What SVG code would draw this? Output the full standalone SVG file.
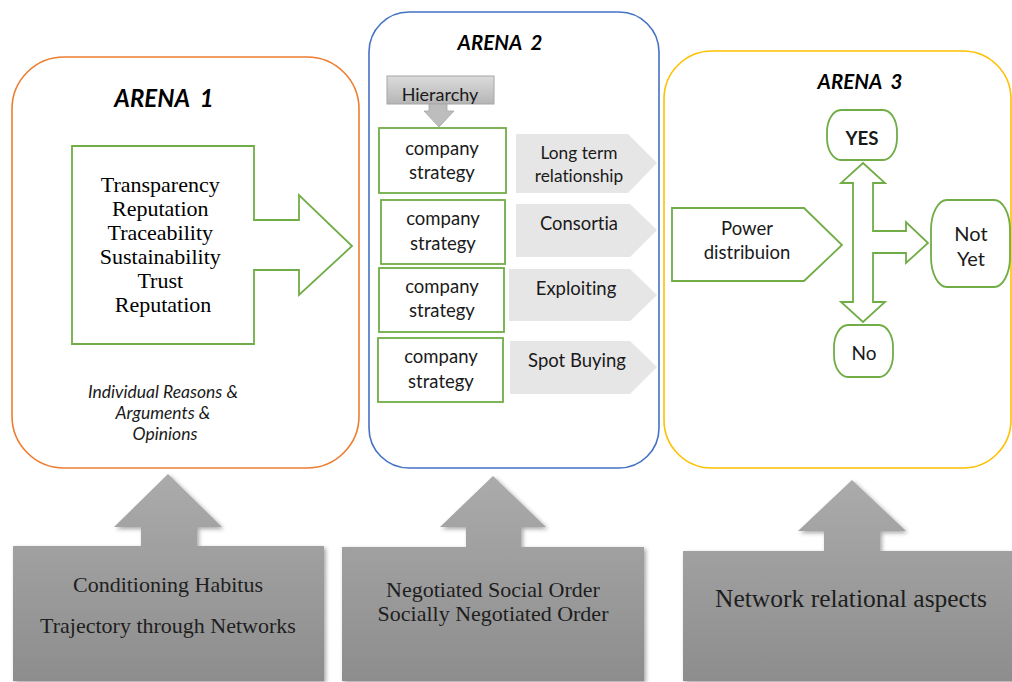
<svg xmlns="http://www.w3.org/2000/svg" width="1012" height="682" viewBox="0 0 1012 682">
  <defs>
    <linearGradient id="greyFade" x1="0" y1="0" x2="0" y2="1">
      <stop offset="0" stop-color="#ababab"/>
      <stop offset="1" stop-color="#8d8d8d"/>
    </linearGradient>
    <linearGradient id="tabFade" x1="0" y1="0" x2="0" y2="1">
      <stop offset="0" stop-color="#dcdcdc"/>
      <stop offset="1" stop-color="#b5b5b5"/>
    </linearGradient>
    <filter id="softShadow" x="-10%" y="-10%" width="120%" height="120%">
      <feDropShadow dx="2" dy="2" stdDeviation="2" flood-color="#000" flood-opacity="0.35"/>
    </filter>
    <clipPath id="tabClip">
      <rect x="387" y="76" width="107" height="28"/>
    </clipPath>
  </defs>
  <style>
    text { font-variant-ligatures: none; }
    .arena { fill: #fff; stroke-width: 1.6; }
    .title { font-family: Lato, "Open Sans", sans-serif; font-weight: bold; font-style: italic; fill: #000; white-space: pre; }
    .green { fill: #fff; stroke: #70ad47; stroke-width: 1.8; }
    .chev { fill: #e7e6e6; stroke: none; }
    .sans { font-family: Lato, "Open Sans", sans-serif; fill: #1a1a1a; text-anchor: middle; }
    .serif { font-family: "Liberation Serif", "Times New Roman", serif; fill: #000; text-anchor: middle; }
    .base { fill: url(#greyFade); filter: url(#softShadow); }
    .baseText { font-family: "Liberation Serif", "Times New Roman", serif; fill: #1e1e1e; text-anchor: middle; }
  </style>

  <!-- Arena frames -->
  <g id="arena1">
    <rect class="arena" x="12" y="57" width="347" height="411" rx="52" stroke="#ed7d31"/>
    <text class="title" x="164" y="107" font-size="24" text-anchor="middle">ARENA  1</text>
  </g>
  <g id="arena2">
    <rect class="arena" x="369" y="12" width="290" height="456" rx="40" stroke="#4472c4"/>
    <text class="title" x="500" y="50" font-size="20.5" text-anchor="middle">ARENA  2</text>
  </g>
  <g id="arena3">
    <rect class="arena" x="664" y="51" width="347" height="417" rx="48" stroke="#ffc000"/>
    <text class="title" x="860" y="89" font-size="20.5" text-anchor="middle">ARENA  3</text>
  </g>

  <!-- Arena 1 contents -->
  <g id="values-arrow">
    <path class="green" d="M72,146 L254,146 L254,220 L299,220 L299,195 L352,246 L299,295 L299,270 L254,270 L254,344 L72,344 Z"/>
    <text class="serif" font-size="22">
      <tspan x="163" y="192">Transparency</tspan>
      <tspan x="163" y="216">Reputation</tspan>
      <tspan x="163" y="240">Traceability</tspan>
      <tspan x="163" y="264">Sustainability</tspan>
      <tspan x="163" y="288">Trust</tspan>
      <tspan x="163" y="312">Reputation</tspan>
    </text>
  </g>
  <g id="reasons">
    <text class="sans" font-size="17.5" font-style="italic" fill="#000">
      <tspan x="165" y="398">Individual Reasons &amp;</tspan>
      <tspan x="165" y="419">Arguments &amp;</tspan>
      <tspan x="165" y="440">Opinions</tspan>
    </text>
  </g>

  <!-- Arena 2 contents -->
  <g id="hierarchy">
    <rect x="387" y="76" width="107" height="28" fill="url(#tabFade)" stroke="#a6a6a6" stroke-width="1"/>
    <text class="sans" x="440" y="101" font-size="18" clip-path="url(#tabClip)">Hierarchy</text>
  </g>

  <g id="strategy1">
    <rect class="green" x="379" y="128" width="127" height="65"/>
    <text class="sans" font-size="18.5"><tspan x="442" y="155">company</tspan><tspan x="442" y="179">strategy</tspan></text>
  </g>
  <g id="strategy2">
    <rect class="green" x="381" y="200" width="124" height="64"/>
    <text class="sans" font-size="18.5"><tspan x="443" y="225">company</tspan><tspan x="443" y="250">strategy</tspan></text>
  </g>
  <g id="strategy3">
    <rect class="green" x="379" y="268" width="125" height="64"/>
    <text class="sans" font-size="18.5"><tspan x="442" y="293">company</tspan><tspan x="442" y="317">strategy</tspan></text>
  </g>
  <g id="strategy4">
    <rect class="green" x="378" y="338" width="125" height="64"/>
    <text class="sans" font-size="18.5"><tspan x="441" y="363">company</tspan><tspan x="441" y="388">strategy</tspan></text>
  </g>

  <g id="long-term">
    <path class="chev" d="M516,134 L628,134 L657,163 L628,193 L516,193 Z"/>
    <text class="sans" font-size="17.3" fill="#333"><tspan x="579" y="159">Long term</tspan><tspan x="579" y="182">relationship</tspan></text>
  </g>
  <g id="consortia">
    <path class="chev" d="M516,204 L630,204 L657,230 L630,257 L516,257 Z"/>
    <text class="sans" x="579" y="230" font-size="18.4" fill="#333">Consortia</text>
  </g>
  <g id="exploiting">
    <path class="chev" d="M509,269 L630,269 L657,295 L630,321 L509,321 Z"/>
    <text class="sans" x="576" y="295" font-size="18.5" fill="#333">Exploiting</text>
  </g>
  <g id="spot-buying">
    <path class="chev" d="M510,341 L630,341 L657,367 L630,394 L510,394 Z"/>
    <text class="sans" x="577" y="367" font-size="18.5" fill="#333">Spot Buying</text>
  </g>

  <!-- Arena 3 contents -->
  <g id="power">
    <path class="green" d="M672,208 L804,208 L842,245 L804,281 L672,281 Z"/>
    <text class="sans" font-size="18.5" fill="#000"><tspan x="747" y="235">Power</tspan><tspan x="747" y="259">distribuion</tspan></text>
  </g>
  <g id="yes">
    <rect class="green" x="827" y="110" width="70" height="50" rx="14" ry="22"/>
    <text class="sans" x="862" y="145" font-size="18.7" font-weight="bold" fill="#00b050">YES</text>
  </g>
  <g id="no">
    <rect class="green" x="834" y="325" width="59" height="52" rx="14" ry="22"/>
    <text class="sans" x="864" y="360" font-size="19" fill="#ff0000">No</text>
  </g>
  <g id="not-yet">
    <rect class="green" x="931" y="200" width="79" height="87" rx="16" ry="30"/>
    <text class="sans" font-size="20" fill="#000"><tspan x="971" y="241">Not</tspan><tspan x="971" y="266">Yet</tspan></text>
  </g>

  <!-- Connectors -->
  <g id="connectors">
    <path d="M429,104 L447,104 L447,111 L454,111 L439,127 L424,111 L429,111 Z" fill="#bdbdbd" stroke="#a6a6a6" stroke-width="0.8"/>
    <path class="green" d="M863,163 L885,183 L873,183 L873,231 L906,231 L906,222 L928,243 L906,263 L906,253 L873,253 L873,302 L885,302 L863,322 L841,302 L853,302 L853,183 L841,183 Z"/>
  </g>

  <!-- Foundations beneath each arena -->
  <g id="habitus">
    <path class="base" d="M168,474 L222,527 L197,527 L197,546 L324,546 L324,681 L13,681 L13,546 L141,546 L141,527 L114,527 Z"/>
    <text class="baseText" x="168" y="592" font-size="22">Conditioning Habitus</text>
    <text class="baseText" x="168" y="633" font-size="22">Trajectory through Networks</text>
  </g>
  <g id="social-order">
    <path class="base" d="M493,476 L546,527 L521,527 L521,547 L644,547 L644,681 L342,681 L342,547 L466,547 L466,527 L440,527 Z"/>
    <text class="baseText" x="493" y="597" font-size="22">Negotiated Social Order</text>
    <text class="baseText" x="493" y="621" font-size="22">Socially Negotiated Order</text>
  </g>
  <g id="network">
    <path class="base" d="M852,480 L906,531 L880,531 L880,551 L1020,551 L1020,681 L683,681 L683,551 L824,551 L824,531 L798,531 Z"/>
    <text class="baseText" x="851" y="607" font-size="25.5">Network relational aspects</text>
  </g>
</svg>
